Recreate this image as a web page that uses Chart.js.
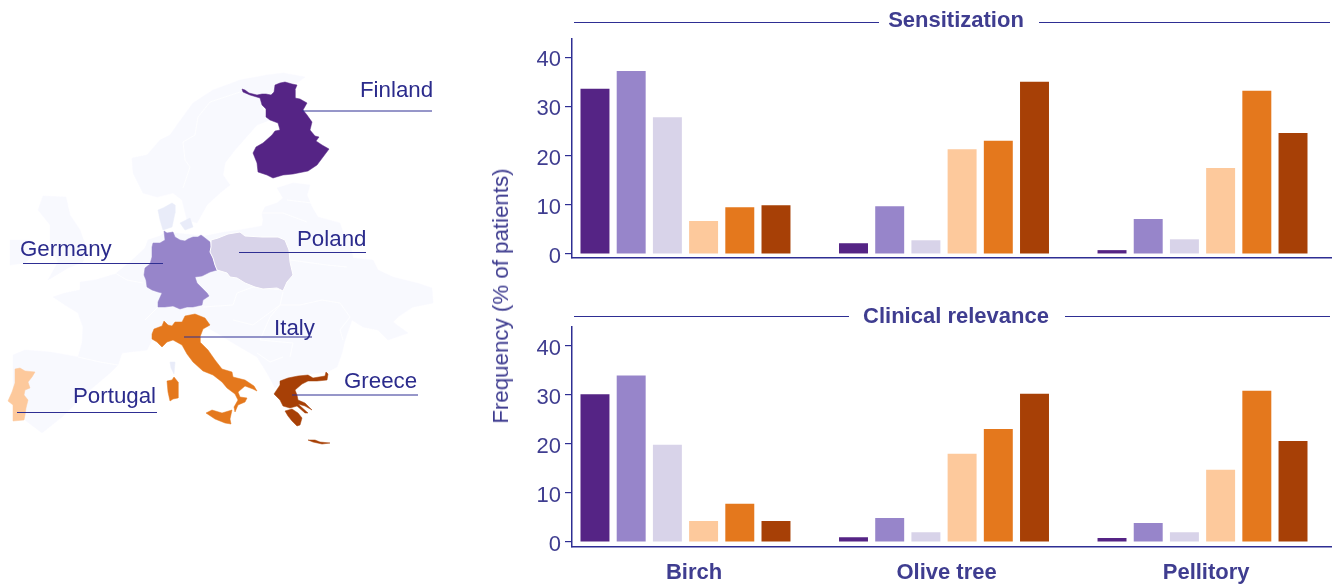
<!DOCTYPE html>
<html>
<head>
<meta charset="utf-8">
<title>Pollen sensitization by country</title>
<script src="https://cdn.jsdelivr.net/npm/chart.js@4"></script>
<style>
    html, body { margin: 0; padding: 0; background: #fff; overflow: hidden; }
    canvas { position: absolute; }
    #yTitle {
        position: absolute; left: 501px; top: 296px; white-space: nowrap;
        font: 22.3px "Liberation Sans", sans-serif; color: #3f3d90;
        transform: translate(-50%, -50%) rotate(-90deg);
    }
</style>
</head>
<body>
<canvas id="mapChart" width="520" height="585" style="left:0;top:0"></canvas>
<canvas id="topChart" width="815" height="290" style="left:520px;top:0"></canvas>
<canvas id="bottomChart" width="815" height="295" style="left:520px;top:290px"></canvas>
<div id="yTitle">Frequency (% of patients)</div>
<script>
// Categories and series
const allergens = ['Birch', 'Olive tree', 'Pellitory'];
const countries = ['Finland', 'Germany', 'Poland', 'Portugal', 'Italy', 'Greece'];
const countryColors = ['#552485', '#9785ca', '#d8d3e9', '#fdc99c', '#e4781d', '#a74006'];
const yTicks = [0, 10, 20, 30, 40];

const sensFinland = [33.6, 2.2, 0.8];
const sensGermany = [37.2, 9.7, 7.1];
const sensPoland = [27.8, 2.8, 3.0];
const sensPortugal = [6.7, 21.3, 17.5];
const sensItaly = [9.5, 23.0, 33.2];
const sensGreece = [9.9, 35.0, 24.6];

const clinFinland = [30.1, 1.0, 0.8];
const clinGermany = [33.9, 4.9, 3.9];
const clinPoland = [19.8, 2.0, 2.0];
const clinPortugal = [4.3, 18.0, 14.7];
const clinItaly = [7.8, 23.0, 30.8];
const clinGreece = [4.3, 30.2, 20.6];

// Map outlines, in map units of the hidden map axes
const landContinent = [[13,355],[25,350],[50,352],[78,357],[82,343],[83,327],[78,313],[65,305],[53,297],[65,293],[80,290],[80,282],[95,280],[115,274],[130,262],[145,248],[148,240],[160,236],[165,232],[205,236],[225,232],[240,230],[262,226],[263,220],[262,213],[265,207],[277,203],[283,198],[277,188],[293,183],[310,185],[307,195],[312,207],[318,217],[340,223],[343,232],[350,242],[353,258],[373,260],[378,270],[393,277],[417,283],[432,288],[433,303],[413,307],[398,317],[393,322],[408,333],[388,340],[378,330],[363,327],[352,320],[345,340],[342,353],[337,367],[327,372],[300,375],[285,380],[275,388],[267,373],[257,357],[233,343],[217,333],[208,328],[200,322],[153,338],[147,350],[122,353],[118,365],[110,373],[90,390],[62,417],[42,433],[25,420],[13,400]];
const landScandinavia = [[132,158],[147,155],[160,140],[170,135],[177,125],[193,103],[213,90],[240,80],[267,75],[283,73],[305,77],[297,83],[280,83],[275,85],[271,95],[258,96],[262,105],[266,117],[270,120],[257,125],[250,133],[235,150],[225,163],[223,175],[230,185],[220,193],[207,205],[197,223],[187,220],[182,200],[173,193],[157,197],[143,193],[133,173]];
const landBritain = [[43,196],[66,197],[70,215],[80,230],[86,247],[83,262],[68,268],[48,280],[58,262],[50,245],[50,225],[38,210]];
const landIreland = [[10,240],[30,240],[33,255],[25,263],[10,265]];
const landDenmark = [[158,210],[163,208],[172,203],[175,205],[175,213],[172,227],[163,230],[160,220]];
const landZealand = [[180,223],[190,218],[193,227],[185,230]];
const landCorsica = [[170,362],[175,362],[174,374],[171,368]];

const shapeFinland = [[[242,89],[245,90],[249,93],[257,95],[262,94],[266,94],[271,95],[274,92],[275,85],[280,83],[285,82],[292,84],[297,85],[295,90],[295,98],[300,99],[307,103],[303,110],[307,115],[312,122],[310,130],[315,136],[319,137],[316,141],[322,145],[329,149],[323,157],[317,165],[308,171],[293,174],[283,175],[273,178],[267,175],[258,172],[257,163],[253,153],[256,147],[263,143],[272,135],[275,131],[280,130],[278,123],[270,120],[266,117],[266,109],[262,105],[260,98],[250,95],[243,92]]];
const shapeGermany = [[[164,231],[167,233],[173,232],[175,237],[180,240],[185,241],[188,239],[193,237],[198,237],[201,235],[205,238],[210,242],[211,247],[210,252],[213,258],[215,265],[217,270],[210,272],[202,276],[195,277],[197,283],[202,288],[207,293],[209,296],[203,300],[202,305],[193,307],[187,307],[180,309],[173,306],[165,307],[158,307],[158,302],[162,293],[158,292],[152,290],[147,287],[146,280],[144,275],[145,268],[150,264],[152,257],[152,247],[153,243],[160,243],[165,240]]];
const shapePoland = [[[211,240],[218,238],[228,234],[240,232],[245,236],[262,237],[278,237],[285,240],[289,250],[290,262],[293,275],[287,282],[283,291],[277,288],[263,289],[255,287],[245,283],[237,278],[230,277],[227,273],[217,270],[215,265],[213,258],[210,252],[211,247]]];
const shapePortugal = [[[15,369],[20,368],[25,371],[35,372],[32,377],[28,382],[30,388],[25,390],[24,395],[28,400],[26,408],[25,415],[24,420],[13,421],[13,412],[13,405],[8,401],[12,392],[15,383]]];
const shapeItaly = [
    [[152,334],[154,329],[162,326],[164,321],[168,325],[172,326],[175,322],[182,322],[185,316],[195,314],[205,318],[210,325],[203,329],[200,337],[200,342],[208,350],[215,360],[222,369],[232,372],[233,377],[245,380],[254,386],[257,391],[253,389],[245,386],[238,392],[240,397],[247,398],[245,402],[238,405],[235,412],[234,407],[238,400],[235,394],[227,388],[222,382],[213,375],[203,371],[193,362],[187,354],[182,345],[173,340],[167,342],[162,347],[157,342],[152,339]],
    [[167,381],[172,380],[174,377],[178,382],[178,398],[173,399],[170,401],[168,392]],
    [[206,413],[212,410],[222,413],[232,410],[230,419],[231,424],[225,423],[215,419]]
];
const shapeGreece = [
    [[274,394],[280,385],[280,381],[288,378],[298,376],[308,375],[313,378],[325,376],[326,372],[328,374],[327,380],[317,381],[308,381],[302,384],[295,390],[297,395],[298,400],[305,403],[312,410],[305,406],[298,404],[308,413],[305,413],[297,406],[290,408],[283,406],[280,400]],
    [[285,411],[292,409],[298,413],[302,418],[300,425],[297,426],[292,421],[288,416]],
    [[308,440],[315,440],[320,442],[330,443],[322,444],[313,442]]
];
const countryShapes = [shapeFinland, shapeGermany, shapePoland, shapePortugal, shapeItaly, shapeGreece];

// Inner borders of the pale land
const borderLines = [
    [[240,92],[210,102],[198,117],[195,135],[183,142],[185,160],[190,167],[183,188]],
    [[78,357],[100,362],[118,365]],
    [[145,320],[157,308]],
    [[110,270],[127,280],[143,283]],
    [[203,307],[233,305],[237,293],[253,287],[283,290]],
    [[233,320],[253,325],[280,305],[283,292]],
    [[280,305],[300,305],[322,300],[340,303],[350,317],[340,330],[343,340]],
    [[280,305],[270,317],[260,340],[293,343],[290,357]],
    [[257,353],[270,362],[283,357]],
    [[290,260],[327,265],[347,267]],
    [[262,213],[283,213],[307,222]],
    [[287,200],[312,203]]
];

// Country name, text start, text baseline, leader start, leader end, leader height
const leaderRows = [
    ['Finland', 360, 97, 302, 432, 111],
    ['Germany', 20, 256, 23, 163, 263.5],
    ['Poland', 297, 246, 239, 366, 252.5],
    ['Italy', 274, 335, 184, 312, 337],
    ['Greece', 344, 388, 292, 418, 395],
    ['Portugal', 73, 403, 17, 157, 412.5]
];

const INK = '#2e2e93';
const TEXT = '#3f3d90';
const FONT = '"Liberation Sans", sans-serif';
const LAND = '#f8f9fe';
const LAND_DARK = '#e9ecf9';

Chart.defaults.animation = false;
Chart.defaults.font.family = FONT;

function closed(points) {
    return points.concat([points[0]]);
}

function area(points, color, edge) {
    return {
        data: closed(points), showLine: true, fill: false, areaColor: color,
        borderColor: edge || color, borderWidth: edge ? 1 : 0.5, pointRadius: 0, tension: 0
    };
}

function stroke(points, color, width) {
    return { data: points, showLine: true, fill: false, borderColor: color, borderWidth: width, pointRadius: 0, tension: 0 };
}

// Paint order, back to front
function mapDatasets() {
    const list = [];
    [landContinent, landScandinavia, landBritain, landIreland].forEach(p => list.push(area(p, LAND)));
    [landDenmark, landZealand, landCorsica].forEach(p => list.push(area(p, LAND_DARK)));
    borderLines.forEach(p => list.push(stroke(p, '#ffffff', 0.8)));
    countryShapes.forEach((parts, i) => {
        const edge = countries[i] === 'Poland' ? '#ffffff' : null;
        parts.forEach(p => list.push(area(p, countryColors[i], edge)));
    });
    leaderRows.forEach(row => list.push(stroke([[row[3], row[5]], [row[4], row[5]]], INK, 1)));
    // Chart.js paints the first dataset last
    return list.reverse();
}

// Fills each outline from the points the scales have already placed
const areaFillPlugin = {
    id: 'areaFill',
    beforeDatasetDraw(chart, args) {
        const color = chart.data.datasets[args.index].areaColor;
        if (!color) return;
        const { ctx } = chart;
        ctx.save();
        ctx.fillStyle = color;
        ctx.beginPath();
        args.meta.data.forEach((pt, i) => {
            if (i === 0) ctx.moveTo(pt.x, pt.y);
            else ctx.lineTo(pt.x, pt.y);
        });
        ctx.closePath();
        ctx.fill();
        ctx.restore();
    }
};

const mapLabelsPlugin = {
    id: 'mapLabels',
    afterDraw(chart) {
        const { ctx, scales } = chart;
        ctx.save();
        ctx.font = '22.3px ' + FONT;
        ctx.fillStyle = '#2b2b8c';
        ctx.textBaseline = 'alphabetic';
        leaderRows.forEach(row => {
            ctx.fillText(row[0], scales.x.getPixelForValue(row[1]), scales.y.getPixelForValue(row[2]));
        });
        ctx.restore();
    }
};

new Chart(document.getElementById('mapChart'), {
    type: 'scatter',
    data: { datasets: mapDatasets() },
    plugins: [areaFillPlugin, mapLabelsPlugin],
    options: {
        responsive: false,
        layout: { padding: 0 },
        plugins: { legend: { display: false }, tooltip: { enabled: false } },
        scales: {
            x: { type: 'linear', display: false, min: 0, max: 520 },
            y: { type: 'linear', display: false, min: 0, max: 585, reverse: true }
        }
    }
});

// Panel heading with a rule on each side of it
const stripPlugin = {
    id: 'strip',
    afterDraw(chart, args, opts) {
        const { ctx } = chart;
        ctx.save();
        ctx.font = 'bold 22px ' + FONT;
        ctx.fillStyle = TEXT;
        ctx.textAlign = 'center';
        ctx.textBaseline = 'middle';
        ctx.fillText(opts.text, 436, opts.y);
        ctx.strokeStyle = INK;
        ctx.lineWidth = 1;
        ctx.beginPath();
        ctx.moveTo(54, opts.ruleY);
        ctx.lineTo(opts.ruleEnd, opts.ruleY);
        ctx.moveTo(opts.ruleStart, opts.ruleY);
        ctx.lineTo(810, opts.ruleY);
        ctx.stroke();
        ctx.restore();
    }
};

function barPanel(canvasId, title, series, cfg) {
    return new Chart(document.getElementById(canvasId), {
        type: 'bar',
        data: {
            datasets: series.map((values, i) => ({
                label: countries[i],
                data: values.map((v, k) => ({ x: k, y: v })),
                backgroundColor: countryColors[i],
                categoryPercentage: 0.86,
                barPercentage: 0.8
            }))
        },
        plugins: [stripPlugin],
        options: {
            responsive: false,
            layout: { padding: { top: cfg.top, right: 4, left: 0, bottom: 0 } },
            plugins: {
                legend: { display: false },
                tooltip: { enabled: false },
                strip: { text: title, y: cfg.titleY, ruleY: cfg.ruleY, ruleEnd: cfg.ruleEnd, ruleStart: cfg.ruleStart }
            },
            scales: {
                x: {
                    type: 'linear',
                    min: -0.439,
                    max: 2.497,
                    offset: false,
                    grid: { display: false },
                    border: { display: true, color: INK, width: 1.5 },
                    afterBuildTicks: scale => {
                        scale.ticks = [0.033, 1.01, 2.014].map(v => ({ value: v }));
                    },
                    afterFit: scale => { scale.height = cfg.xHeight; },
                    ticks: {
                        display: cfg.showLabels,
                        callback: (value, index) => allergens[index],
                        color: TEXT,
                        font: { size: 22, weight: 'bold' },
                        padding: 5,
                        maxRotation: 0,
                        autoSkip: false,
                        includeBounds: false
                    }
                },
                y: {
                    min: cfg.yMin,
                    max: cfg.yMax,
                    afterBuildTicks: scale => {
                        scale.ticks = yTicks.map(v => ({ value: v }));
                    },
                    afterFit: scale => { scale.width = 52; },
                    grid: { drawOnChartArea: false, drawTicks: true, tickLength: 7, color: INK, lineWidth: 1.2 },
                    border: { display: true, color: INK, width: 1.5 },
                    ticks: { color: TEXT, font: { size: 22 }, padding: 4, labelOffset: 3 }
                }
            }
        }
    });
}

barPanel('topChart', 'Sensitization',
    [sensFinland, sensGermany, sensPoland, sensPortugal, sensItaly, sensGreece],
    { top: 39, xHeight: 32, showLabels: false, yMin: -0.8, yMax: 43.7, titleY: 21, ruleY: 22.5, ruleEnd: 359, ruleStart: 519 });

barPanel('bottomChart', 'Clinical relevance',
    [clinFinland, clinGermany, clinPoland, clinPortugal, clinItaly, clinGreece],
    { top: 37, xHeight: 38.3, showLabels: true, yMin: -0.95, yMax: 43.8, titleY: 27, ruleY: 26.5, ruleEnd: 329, ruleStart: 545 });
</script>
</body>
</html>
